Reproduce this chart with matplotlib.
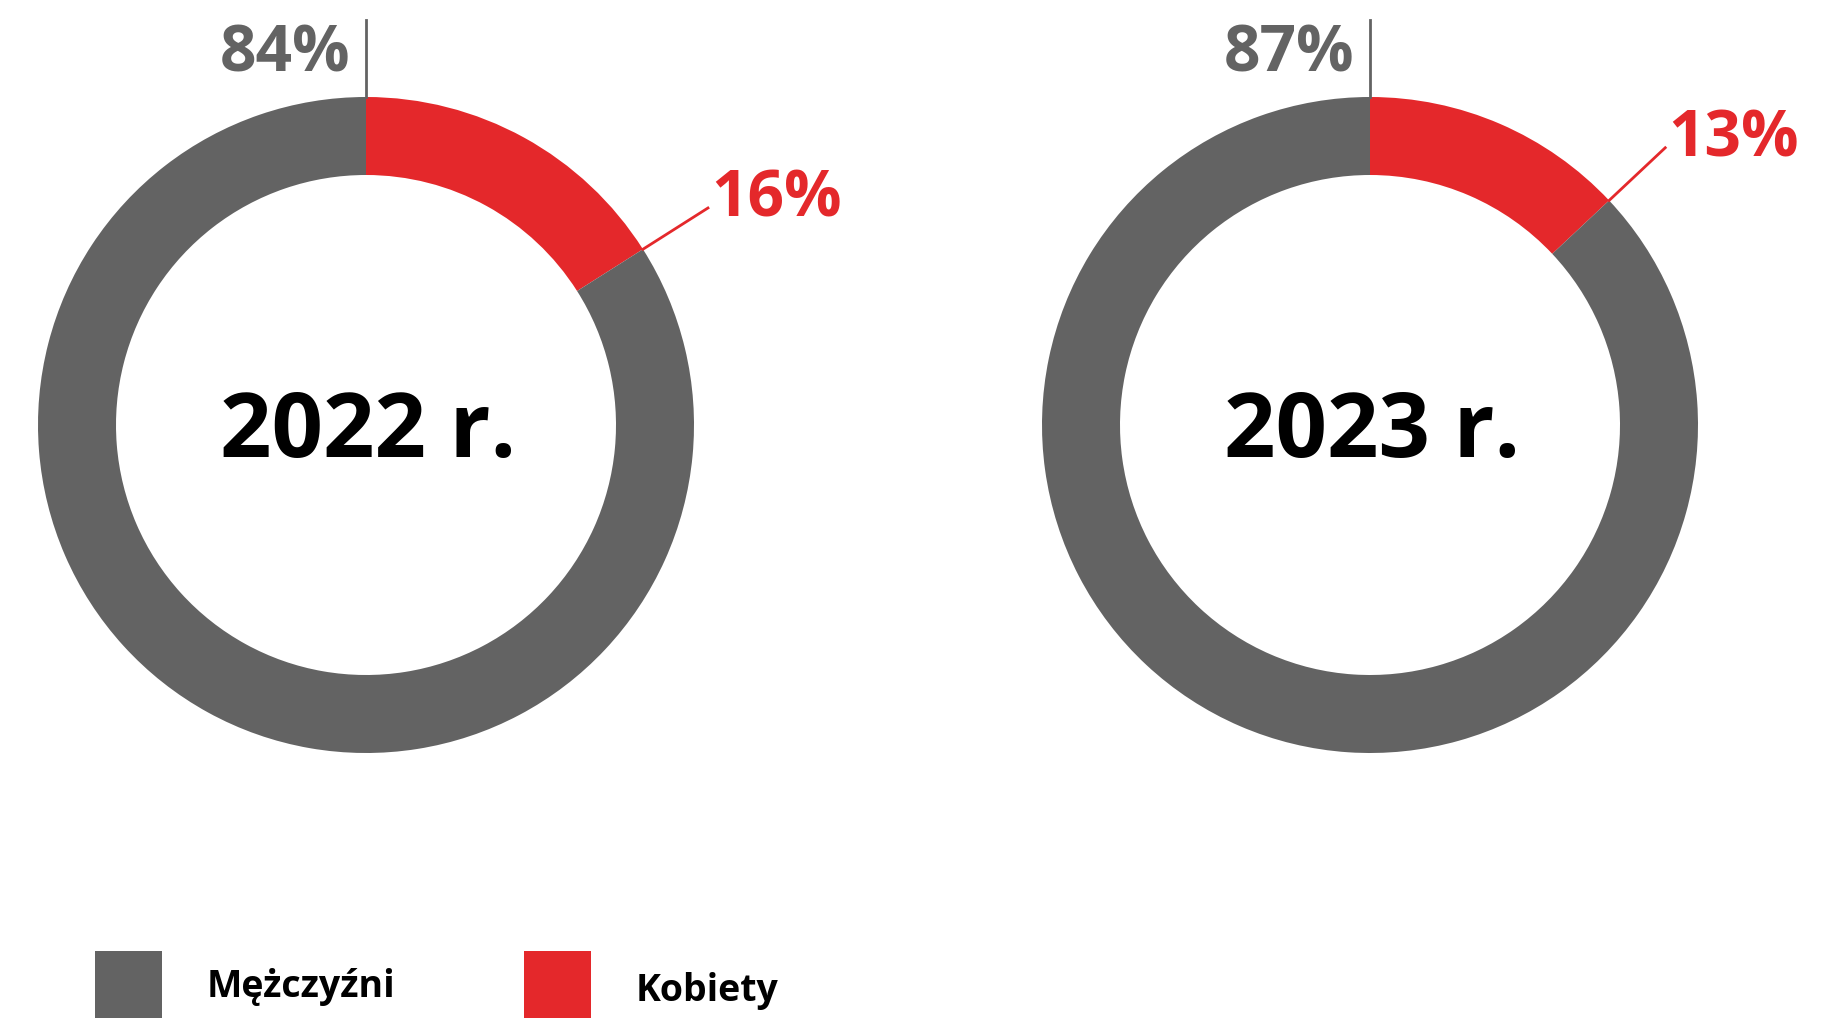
import math
import matplotlib.pyplot as plt
from matplotlib.patches import Rectangle

# Gender split per year
years = ['2022 r.', '2023 r.']
men = [84, 87]
women = [16, 13]
categories = ['Mężczyźni', 'Kobiety']

GRAY = '#636363'
RED = '#E4282B'
W, H = 1838, 1018

plt.rcParams['font.family'] = ['Open Sans', 'DejaVu Sans']
plt.rcParams['font.weight'] = 'bold'

fig = plt.figure(figsize=(W / 100, H / 100), dpi=100)
ax = fig.add_axes([0, 0, 1, 1])

centers_x = [366, 1370]
cy = H - 425
r_out, r_in = 328, 250

for cx, year, m, w in zip(centers_x, years, men, women):
    ax.pie([w, m], colors=[RED, GRAY], startangle=90, counterclock=False,
           radius=r_out, center=(cx, cy),
           wedgeprops=dict(width=r_out - r_in, linewidth=0))

    # year in the hole
    ax.text(cx + 2, H - 457, year, ha='center', va='baseline',
            fontsize=65, fontweight='bold', color='black')

    # men: vertical leader at the top of the ring
    ax.plot([cx, cx], [cy + r_out, H - 20], color=GRAY, lw=2)
    ax.text(cx - 16, H - 71, f'{m}%', ha='right', va='baseline',
            fontsize=46, fontweight='bold', color=GRAY)

    # women: radial leader from the end of the red wedge
    ang = math.radians(90 - 360 * w / 100)
    x0 = cx + r_out * math.cos(ang)
    y0 = cy + r_out * math.sin(ang)
    x1 = cx + (r_out + 77) * math.cos(ang)
    y1 = cy + (r_out + 77) * math.sin(ang)
    ax.plot([x0, x1], [y0, y1], color=RED, lw=2)
    ax.text(x1 + 3, y1 - 9, f'{w}%', ha='left', va='baseline',
            fontsize=46, fontweight='bold', color=RED)

# legend
ax.add_patch(Rectangle((95, 0), 67, H - 951, color=GRAY, lw=0))
ax.text(207, H - 997, categories[0], ha='left', va='baseline',
        fontsize=27, fontweight='bold', color='black')
ax.add_patch(Rectangle((524, 0), 67, H - 951, color=RED, lw=0))
ax.text(636, H - 1001, categories[1], ha='left', va='baseline',
        fontsize=27, fontweight='bold', color='black')

ax.set_xlim(0, W)
ax.set_ylim(0, H)
ax.set_aspect('auto')
ax.axis('off')

fig.savefig('out.png', dpi=100, facecolor='white')
